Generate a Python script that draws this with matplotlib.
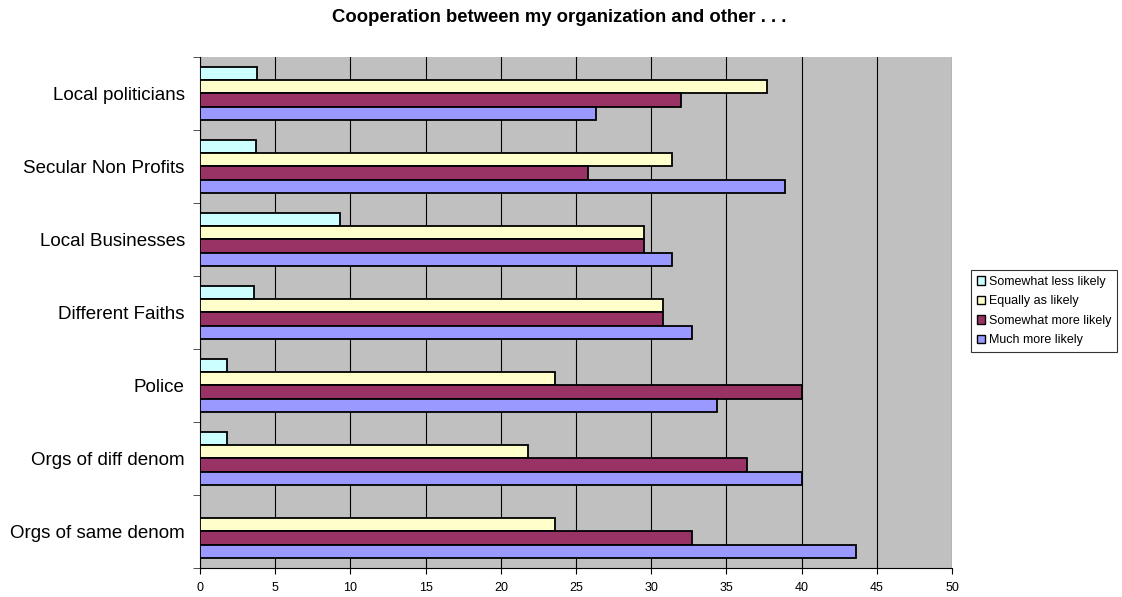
import numpy as np
import matplotlib
matplotlib.use("Agg")
import matplotlib.pyplot as plt
from matplotlib.patches import Patch

plt.rcParams['font.family'] = ['Liberation Sans', 'DejaVu Sans']

# categories from bottom to top
categories = ["Orgs of same denom", "Orgs of diff denom", "Police", "Different Faiths",
              "Local Businesses", "Secular Non Profits", "Local politicians"]
much_more = [43.6, 40.0, 34.4, 32.7, 31.4, 38.9, 26.3]
somewhat_more = [32.7, 36.4, 40.0, 30.8, 29.5, 25.8, 32.0]
equally = [23.6, 21.8, 23.6, 30.8, 29.5, 31.4, 37.7]
somewhat_less = [0.0, 1.8, 1.8, 3.6, 9.3, 3.7, 3.8]

series = [("Somewhat less likely", somewhat_less, "#CCFFFF"),
          ("Equally as likely", equally, "#FFFFCC"),
          ("Somewhat more likely", somewhat_more, "#993366"),
          ("Much more likely", much_more, "#9999FF")]

fig = plt.figure(figsize=(11.22, 5.97), dpi=100)
ax = fig.add_axes([0.1783, 0.0486, 0.6702, 0.856])
ax.set_facecolor("#C0C0C0")

y = np.arange(len(categories))
h = 0.18
offsets = [1.5, 0.5, -0.5, -1.5]
for (name, vals, col), off in zip(series, offsets):
    ax.barh(y + off * h, vals, height=h, color=col, edgecolor="black", linewidth=1.3,
            label=name, zorder=3)

ax.set_xlim(0, 50)
ax.set_ylim(-0.5, len(categories) - 0.5)
ax.set_xticks(np.arange(0, 51, 5))
ax.tick_params(axis="x", labelsize=9, direction="out", length=4, pad=6)
ax.xaxis.grid(True, color="black", linewidth=0.8, zorder=0)
ax.set_axisbelow(True)

ax.set_yticks(y)
ax.set_yticklabels(categories, fontsize=13.5)
ax.tick_params(axis="y", which="major", length=0, pad=11)
ax.set_yticks(np.arange(-0.5, len(categories)), minor=True)
ax.tick_params(axis="y", which="minor", length=5, direction="out", color="#333333")

for s in ["top", "right"]:
    ax.spines[s].set_visible(False)
ax.spines["left"].set_color("black")
ax.spines["bottom"].set_color("black")

fig.text(0.498, 1 - 18 / 597, "Cooperation between my organization and other . . .",
         ha="center", va="center", fontsize=13.3, fontweight="bold")

handles = [Patch(facecolor=c, edgecolor="black", label=n) for n, _, c in series]
leg = fig.legend(handles=handles, loc="center left", bbox_to_anchor=(0.8654, 0.479),
                 fontsize=9, frameon=True, fancybox=False, edgecolor="black",
                 handlelength=0.7, handleheight=0.7, handletextpad=0.3,
                 borderpad=0.45, labelspacing=0.6, borderaxespad=0)
leg.get_frame().set_linewidth(0.8)

fig.savefig("out.png", dpi=100)
